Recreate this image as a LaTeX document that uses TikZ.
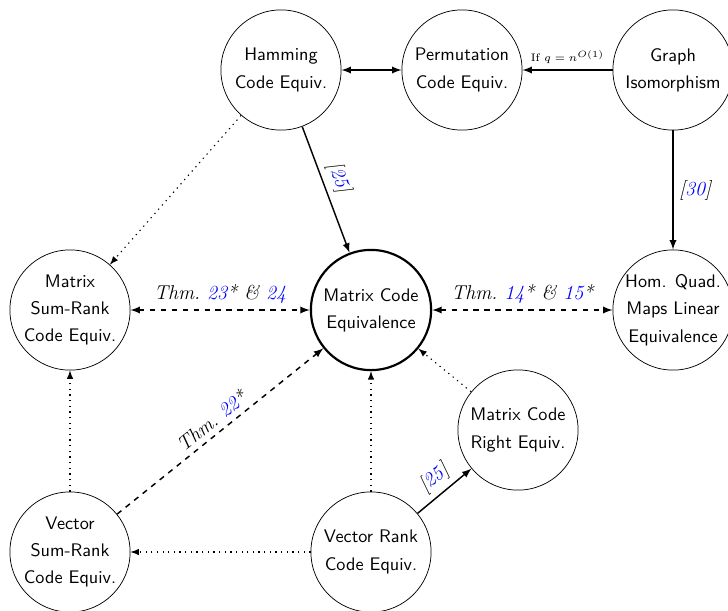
\documentclass[tikz,border=0pt]{standalone}
\usepackage{amsmath}
\usepackage{amssymb}
\usepackage{xcolor}

\begin{document}
\begin{tikzpicture}[x=0.0193cm,y=-0.0193cm]
\tikzstyle{every node}+=[inner sep=0pt]
\tikzstyle{prob}=[draw=black,circle,minimum size=2.32cm,align=center,font=\sffamily\fontsize{10}{15}\selectfont]
\tikzstyle{mainprob}=[prob,very thick]
\tikzstyle{lbl}=[font=\itshape\fontsize{11}{13}\selectfont,inner sep=3pt]
\tikzstyle{redn}=[-latex,thick]
\tikzstyle{thmredn}=[latex-latex,thick,dashed]
\tikzstyle{trivredn}=[-latex,semithick,dash pattern=on 0.7pt off 2.4pt]
\useasboundingbox (0,0) rectangle (728,610);
\node [prob] (ham) at (281,70) {Hamming\\Code Equiv.};
\node [prob] (perm) at (462,70) {Permutation\\Code Equiv.};
\node [prob] (graph) at (673,70) {Graph\\Isomorphism};
\node [prob] (msr) at (70,310) {Matrix\\Sum-Rank\\Code Equiv.};
\node [mainprob] (mce) at (371,310) {Matrix Code\\Equivalence};
\node [prob] (hqm) at (673,310) {Hom. Quad.\\Maps Linear\\Equivalence};
\node [prob] (mre) at (518,430) {Matrix Code\\Right Equiv.};
\node [prob] (vsr) at (70,552) {Vector\\Sum-Rank\\Code Equiv.};
\node [prob] (vr) at (371,552) {Vector Rank\\Code Equiv.};
\draw [latex-latex,thick] (ham) -- (perm);
\draw [redn] (graph) -- node [above=3pt,font=\fontsize{6}{7}\selectfont] {If $q = n^{O(1)}$} (perm);
\draw [redn] (ham) -- node [lbl,above,sloped,pos=0.45] {[\textcolor{blue}{25}]} (mce);
\draw [redn] (graph) -- node [lbl,right] {[\textcolor{blue}{30}]} (hqm);
\draw [trivredn] (ham) -- (msr);
\draw [thmredn] (msr) -- node [lbl,above] {Thm.~\textcolor{blue}{23}*~\&~\textcolor{blue}{24}} (mce);
\draw [thmredn] (mce) -- node [lbl,above] {Thm.~\textcolor{blue}{14}*~\&~\textcolor{blue}{15}*} (hqm);
\draw [-latex,thick,dashed] (vsr) -- node [lbl,above,sloped] {Thm.~\textcolor{blue}{22}*} (mce);
\draw [trivredn] (vsr) -- (msr);
\draw [trivredn] (vr) -- (mce);
\draw [trivredn] (vr) -- (vsr);
\draw [redn] (vr) -- node [lbl,above,sloped] {[\textcolor{blue}{25}]} (mre);
\draw [trivredn] (mre) -- (mce);
\end{tikzpicture}
\end{document}
